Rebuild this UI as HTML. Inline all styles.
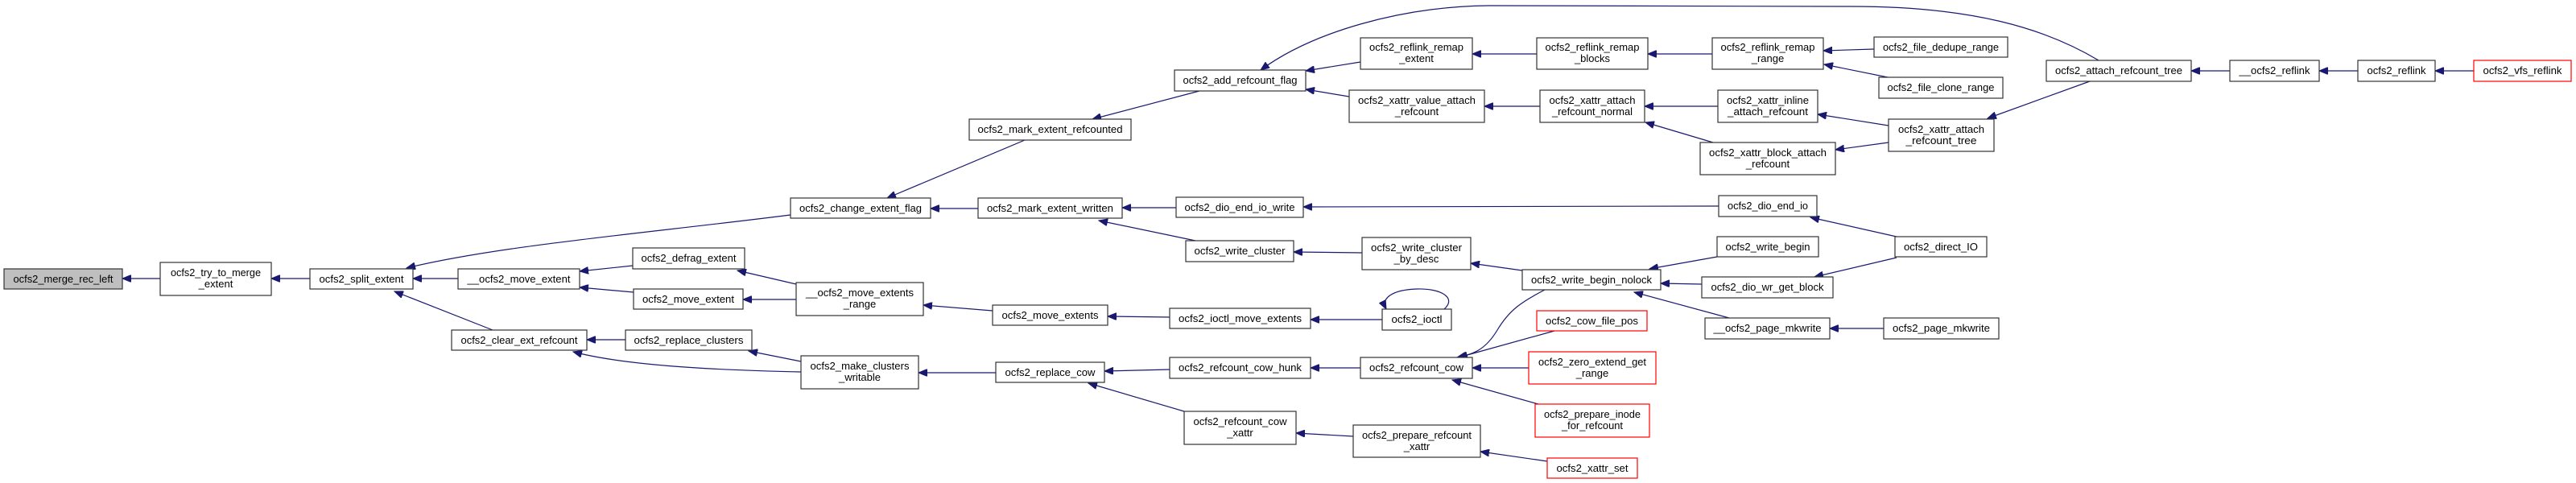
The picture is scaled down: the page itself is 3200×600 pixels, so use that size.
<!DOCTYPE html>
<html><head><meta charset="utf-8"><style>
html,body{margin:0;padding:0;background:#fff;}
svg{display:block;}
text{font-family:"Liberation Sans",sans-serif;font-size:13px;fill:#000;text-anchor:middle;}
rect{fill:#fff;stroke:#333;stroke-width:1.2;}
rect.r{stroke:#ff0000;}
rect.g{fill:#bfbfbf;}
path,line{stroke:#191970;stroke-width:1.2;fill:none;}
</style></head><body>
<svg width="3200" height="600" viewBox="0 0 3200 600" xmlns="http://www.w3.org/2000/svg">
<defs><marker id="a" markerUnits="userSpaceOnUse" markerWidth="12" markerHeight="9" refX="11" refY="4.5" orient="auto"><path d="M0,0 L11,4.5 L0,9 z" style="fill:#191970;stroke:#191970;stroke-width:1"/></marker></defs>
<g marker-end="url(#a)">
<line x1="199" y1="346" x2="152" y2="346"/>
<line x1="385" y1="346" x2="337" y2="346"/>
<path d="M982,267 C800,290 620,305 505,333"/>
<line x1="569" y1="346" x2="513" y2="346"/>
<line x1="612" y1="410" x2="490" y2="362"/>
<line x1="786" y1="330" x2="720" y2="337"/>
<line x1="787" y1="363" x2="720" y2="357"/>
<line x1="777" y1="422" x2="729" y2="422"/>
<path d="M995,462 C900,460 780,455 712,437"/>
<line x1="989" y1="353" x2="916" y2="336"/>
<line x1="989" y1="372" x2="923" y2="372"/>
<line x1="995" y1="449" x2="930" y2="436"/>
<line x1="1273" y1="174" x2="1102" y2="246"/>
<line x1="1215" y1="259" x2="1156" y2="259"/>
<line x1="1490" y1="113" x2="1357" y2="148"/>
<line x1="1233" y1="386" x2="1147" y2="379"/>
<line x1="1237" y1="463" x2="1141" y2="463"/>
<line x1="1461" y1="258" x2="1394" y2="258"/>
<line x1="1485" y1="299" x2="1365" y2="274"/>
<line x1="1453" y1="394" x2="1376" y2="393"/>
<line x1="1453" y1="459" x2="1372" y2="461"/>
<line x1="1471" y1="511" x2="1352" y2="476"/>
<line x1="1690" y1="77" x2="1622" y2="88"/>
<line x1="1676" y1="120" x2="1622" y2="111"/>
<path d="M2607,75 C2540,35 2450,8 2300,8 L1850,7 C1740,8 1630,40 1566,87"/>
<line x1="1692" y1="314" x2="1607" y2="313"/>
<line x1="1690" y1="457" x2="1628" y2="457"/>
<line x1="1717" y1="397" x2="1628" y2="397"/>
<line x1="1681" y1="542" x2="1610" y2="538"/>
<line x1="1909" y1="67" x2="1829" y2="67"/>
<line x1="1913" y1="132" x2="1844" y2="132"/>
<line x1="1891" y1="336" x2="1827" y2="327"/>
<path d="M1794,384 C1810,370 1790,358 1760,359 C1730,360 1715,370 1722,384"/>
<path d="M1919,360 C1890,375 1875,385 1860,410 C1845,435 1830,440 1810,444"/>
<line x1="1931" y1="411" x2="1812" y2="444"/>
<line x1="1899" y1="457" x2="1829" y2="457"/>
<line x1="1911" y1="502" x2="1804" y2="472"/>
<line x1="1922" y1="573" x2="1839" y2="561"/>
<line x1="2127" y1="67" x2="2047" y2="67"/>
<line x1="2134" y1="132" x2="2043" y2="132"/>
<line x1="2128" y1="177" x2="2044" y2="152"/>
<line x1="2135" y1="256" x2="1619" y2="257"/>
<line x1="2133" y1="319" x2="2049" y2="334"/>
<line x1="2114" y1="353" x2="2063" y2="352"/>
<line x1="2148" y1="395" x2="2030" y2="363"/>
<line x1="2328" y1="61" x2="2265" y2="63"/>
<line x1="2345" y1="96" x2="2266" y2="80"/>
<line x1="2346" y1="156" x2="2258" y2="142"/>
<line x1="2346" y1="177" x2="2280" y2="186"/>
<line x1="2356" y1="294" x2="2249" y2="270"/>
<line x1="2356" y1="320" x2="2254" y2="344"/>
<line x1="2340" y1="408" x2="2273" y2="408"/>
<line x1="2596" y1="101" x2="2469" y2="147"/>
<line x1="2770" y1="88" x2="2722" y2="88"/>
<line x1="2929" y1="88" x2="2881" y2="88"/>
<line x1="3073" y1="88" x2="3025" y2="88"/>
</g>
<g>
<rect class="g" x="5" y="334" width="147" height="25"/><text x="78.5" y="351" textLength="124" lengthAdjust="spacingAndGlyphs">ocfs2_merge_rec_left</text>
<rect x="199" y="326" width="138" height="41"/><text x="268" y="343" textLength="112" lengthAdjust="spacingAndGlyphs">ocfs2_try_to_merge</text><text x="268" y="357">_extent</text>
<rect x="385" y="334" width="128" height="25"/><text x="449" y="351" textLength="105" lengthAdjust="spacingAndGlyphs">ocfs2_split_extent</text>
<rect x="569" y="334" width="151" height="25"/><text x="644.5" y="351" textLength="128" lengthAdjust="spacingAndGlyphs">__ocfs2_move_extent</text>
<rect x="561" y="410" width="168" height="25"/><text x="645" y="427" textLength="145" lengthAdjust="spacingAndGlyphs">ocfs2_clear_ext_refcount</text>
<rect x="982" y="246" width="174" height="25"/><text x="1069" y="263" textLength="152" lengthAdjust="spacingAndGlyphs">ocfs2_change_extent_flag</text>
<rect x="1204" y="148" width="201" height="26"/><text x="1304.5" y="165" textLength="180" lengthAdjust="spacingAndGlyphs">ocfs2_mark_extent_refcounted</text>
<rect x="1459" y="87" width="163" height="26"/><text x="1540.5" y="104" textLength="142" lengthAdjust="spacingAndGlyphs">ocfs2_add_refcount_flag</text>
<rect x="1215" y="246" width="179" height="25"/><text x="1304.5" y="263" textLength="157" lengthAdjust="spacingAndGlyphs">ocfs2_mark_extent_written</text>
<rect x="1461" y="245" width="158" height="25"/><text x="1540" y="262" textLength="137" lengthAdjust="spacingAndGlyphs">ocfs2_dio_end_io_write</text>
<rect x="1473" y="299" width="134" height="26"/><text x="1540" y="316" textLength="113" lengthAdjust="spacingAndGlyphs">ocfs2_write_cluster</text>
<rect x="786" y="308" width="139" height="26"/><text x="855.5" y="325" textLength="118" lengthAdjust="spacingAndGlyphs">ocfs2_defrag_extent</text>
<rect x="787" y="359" width="136" height="25"/><text x="855" y="376" textLength="114" lengthAdjust="spacingAndGlyphs">ocfs2_move_extent</text>
<rect x="777" y="410" width="157" height="25"/><text x="855.5" y="427" textLength="136" lengthAdjust="spacingAndGlyphs">ocfs2_replace_clusters</text>
<rect x="989" y="351" width="158" height="41"/><text x="1068" y="368" textLength="134" lengthAdjust="spacingAndGlyphs">__ocfs2_move_extents</text><text x="1068" y="382">_range</text>
<rect x="995" y="442" width="146" height="41"/><text x="1068" y="459" textLength="123" lengthAdjust="spacingAndGlyphs">ocfs2_make_clusters</text><text x="1068" y="473">_writable</text>
<rect x="1233" y="379" width="143" height="25"/><text x="1304.5" y="396" textLength="120" lengthAdjust="spacingAndGlyphs">ocfs2_move_extents</text>
<rect x="1453" y="383" width="175" height="25"/><text x="1540.5" y="400" textLength="153" lengthAdjust="spacingAndGlyphs">ocfs2_ioctl_move_extents</text>
<rect x="1237" y="450" width="135" height="25"/><text x="1304.5" y="467" textLength="112" lengthAdjust="spacingAndGlyphs">ocfs2_replace_cow</text>
<rect x="1453" y="444" width="175" height="26"/><text x="1540.5" y="461" textLength="153" lengthAdjust="spacingAndGlyphs">ocfs2_refcount_cow_hunk</text>
<rect x="1471" y="511" width="139" height="41"/><text x="1540.5" y="528" textLength="116" lengthAdjust="spacingAndGlyphs">ocfs2_refcount_cow</text><text x="1540.5" y="542">_xattr</text>
<rect x="1690" y="47" width="139" height="39"/><text x="1759.5" y="63" textLength="117" lengthAdjust="spacingAndGlyphs">ocfs2_reflink_remap</text><text x="1759.5" y="77">_extent</text>
<rect x="1909" y="47" width="138" height="39"/><text x="1978" y="63" textLength="117" lengthAdjust="spacingAndGlyphs">ocfs2_reflink_remap</text><text x="1978" y="77">_blocks</text>
<rect x="2127" y="47" width="138" height="39"/><text x="2196" y="63" textLength="117" lengthAdjust="spacingAndGlyphs">ocfs2_reflink_remap</text><text x="2196" y="77">_range</text>
<rect x="2328" y="46" width="166" height="25"/><text x="2411" y="63" textLength="144" lengthAdjust="spacingAndGlyphs">ocfs2_file_dedupe_range</text>
<rect x="2334" y="96" width="154" height="26"/><text x="2411" y="113" textLength="133" lengthAdjust="spacingAndGlyphs">ocfs2_file_clone_range</text>
<rect x="1676" y="112" width="168" height="40"/><text x="1760" y="129" textLength="146" lengthAdjust="spacingAndGlyphs">ocfs2_xattr_value_attach</text><text x="1760" y="143">_refcount</text>
<rect x="1913" y="112" width="130" height="40"/><text x="1978" y="129" textLength="107" lengthAdjust="spacingAndGlyphs">ocfs2_xattr_attach</text><text x="1978" y="143" textLength="100" lengthAdjust="spacingAndGlyphs">_refcount_normal</text>
<rect x="2134" y="112" width="124" height="40"/><text x="2196" y="129" textLength="102" lengthAdjust="spacingAndGlyphs">ocfs2_xattr_inline</text><text x="2196" y="143" textLength="100" lengthAdjust="spacingAndGlyphs">_attach_refcount</text>
<rect x="2112" y="177" width="168" height="40"/><text x="2196" y="194" textLength="146" lengthAdjust="spacingAndGlyphs">ocfs2_xattr_block_attach</text><text x="2196" y="208">_refcount</text>
<rect x="2346" y="148" width="131" height="40"/><text x="2411.5" y="165" textLength="107" lengthAdjust="spacingAndGlyphs">ocfs2_xattr_attach</text><text x="2411.5" y="179" textLength="88" lengthAdjust="spacingAndGlyphs">_refcount_tree</text>
<rect x="2135" y="243" width="122" height="26"/><text x="2196" y="260" textLength="100" lengthAdjust="spacingAndGlyphs">ocfs2_dio_end_io</text>
<rect x="1692" y="295" width="135" height="40"/><text x="1759.5" y="312" textLength="113" lengthAdjust="spacingAndGlyphs">ocfs2_write_cluster</text><text x="1759.5" y="326">_by_desc</text>
<rect x="2133" y="294" width="126" height="25"/><text x="2196" y="311" textLength="105" lengthAdjust="spacingAndGlyphs">ocfs2_write_begin</text>
<rect x="2354" y="294" width="114" height="25"/><text x="2411" y="311" textLength="92" lengthAdjust="spacingAndGlyphs">ocfs2_direct_IO</text>
<rect x="1891" y="335" width="172" height="25"/><text x="1977" y="352" textLength="150" lengthAdjust="spacingAndGlyphs">ocfs2_write_begin_nolock</text>
<rect x="2114" y="344" width="163" height="26"/><text x="2195.5" y="361" textLength="140" lengthAdjust="spacingAndGlyphs">ocfs2_dio_wr_get_block</text>
<rect x="1717" y="384" width="86" height="26"/><text x="1760" y="401" textLength="63" lengthAdjust="spacingAndGlyphs">ocfs2_ioctl</text>
<rect class="r" x="1909" y="386" width="137" height="25"/><text x="1977.5" y="403" textLength="115" lengthAdjust="spacingAndGlyphs">ocfs2_cow_file_pos</text>
<rect x="2118" y="395" width="155" height="26"/><text x="2195.5" y="412" textLength="134" lengthAdjust="spacingAndGlyphs">__ocfs2_page_mkwrite</text>
<rect x="2340" y="395" width="143" height="26"/><text x="2411.5" y="412" textLength="121" lengthAdjust="spacingAndGlyphs">ocfs2_page_mkwrite</text>
<rect x="1690" y="444" width="139" height="26"/><text x="1759.5" y="461" textLength="117" lengthAdjust="spacingAndGlyphs">ocfs2_refcount_cow</text>
<rect class="r" x="1899" y="437" width="158" height="40"/><text x="1978" y="454" textLength="134" lengthAdjust="spacingAndGlyphs">ocfs2_zero_extend_get</text><text x="1978" y="468">_range</text>
<rect class="r" x="1907" y="502" width="142" height="41"/><text x="1978" y="519" textLength="120" lengthAdjust="spacingAndGlyphs">ocfs2_prepare_inode</text><text x="1978" y="533" textLength="76" lengthAdjust="spacingAndGlyphs">_for_refcount</text>
<rect x="1681" y="528" width="158" height="40"/><text x="1760" y="545" textLength="136" lengthAdjust="spacingAndGlyphs">ocfs2_prepare_refcount</text><text x="1760" y="559">_xattr</text>
<rect class="r" x="1922" y="569" width="112" height="25"/><text x="1978" y="586" textLength="89" lengthAdjust="spacingAndGlyphs">ocfs2_xattr_set</text>
<rect x="2542" y="75" width="180" height="26"/><text x="2632" y="92" textLength="158" lengthAdjust="spacingAndGlyphs">ocfs2_attach_refcount_tree</text>
<rect x="2770" y="75" width="111" height="26"/><text x="2825.5" y="92" textLength="88" lengthAdjust="spacingAndGlyphs">__ocfs2_reflink</text>
<rect x="2929" y="75" width="96" height="26"/><text x="2977" y="92" textLength="73" lengthAdjust="spacingAndGlyphs">ocfs2_reflink</text>
<rect class="r" x="3073" y="75" width="121" height="26"/><text x="3133.5" y="92" textLength="98" lengthAdjust="spacingAndGlyphs">ocfs2_vfs_reflink</text>
</g>
</svg>
</body></html>
